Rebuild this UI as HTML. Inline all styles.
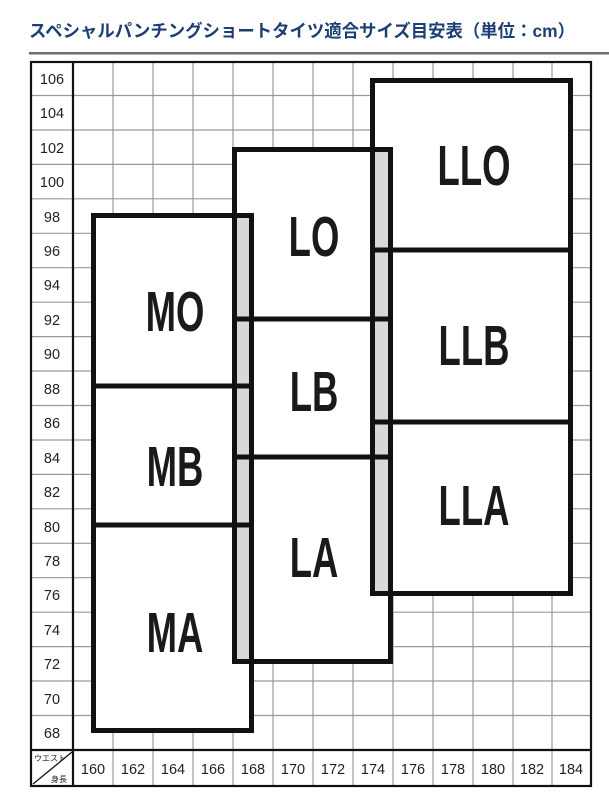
<!DOCTYPE html>
<html><head><meta charset="utf-8"><style>
html,body{margin:0;padding:0;background:#fff;}
svg{display:block;}
</style></head><body>
<svg width="609" height="810" viewBox="0 0 609 810" xmlns="http://www.w3.org/2000/svg">
<text x="29" y="37" font-family="Liberation Sans, Noto Sans CJK JP, sans-serif" font-size="17.5" font-weight="bold" fill="#1d3f73" textLength="546" lengthAdjust="spacingAndGlyphs">スペシャルパンチングショートタイツ適合サイズ目安表（単位：cm）</text>
<rect x="29" y="52" width="580" height="2.5" fill="#6e6e6e"/>
<g stroke="#9a9a9a" stroke-width="1.2">
<line x1="113" y1="61" x2="113" y2="786"/><line x1="153" y1="61" x2="153" y2="786"/><line x1="193" y1="61" x2="193" y2="786"/><line x1="233" y1="61" x2="233" y2="786"/><line x1="273" y1="61" x2="273" y2="786"/><line x1="313" y1="61" x2="313" y2="786"/><line x1="353" y1="61" x2="353" y2="786"/><line x1="393" y1="61" x2="393" y2="786"/><line x1="433" y1="61" x2="433" y2="786"/><line x1="473" y1="61" x2="473" y2="786"/><line x1="513" y1="61" x2="513" y2="786"/><line x1="552" y1="61" x2="552" y2="786"/>
<line x1="31" y1="95.5" x2="591" y2="95.5"/><line x1="31" y1="130" x2="591" y2="130"/><line x1="31" y1="164.4" x2="591" y2="164.4"/><line x1="31" y1="198.8" x2="591" y2="198.8"/><line x1="31" y1="233.3" x2="591" y2="233.3"/><line x1="31" y1="267.7" x2="591" y2="267.7"/><line x1="31" y1="302.2" x2="591" y2="302.2"/><line x1="31" y1="336.6" x2="591" y2="336.6"/><line x1="31" y1="371" x2="591" y2="371"/><line x1="31" y1="405.5" x2="591" y2="405.5"/><line x1="31" y1="440" x2="591" y2="440"/><line x1="31" y1="474.4" x2="591" y2="474.4"/><line x1="31" y1="508.8" x2="591" y2="508.8"/><line x1="31" y1="543.3" x2="591" y2="543.3"/><line x1="31" y1="577.7" x2="591" y2="577.7"/><line x1="31" y1="612.2" x2="591" y2="612.2"/><line x1="31" y1="646.6" x2="591" y2="646.6"/><line x1="31" y1="681" x2="591" y2="681"/><line x1="31" y1="715.5" x2="591" y2="715.5"/>
</g>
<g stroke="#111" stroke-width="2.2" fill="none">
<rect x="31" y="62" width="560" height="724"/>
<line x1="73" y1="62" x2="73" y2="786"/>
<line x1="31" y1="750" x2="591" y2="750"/>
<line x1="33" y1="784" x2="72" y2="752" stroke-width="1.3"/>
</g>
<g font-family="Liberation Sans, sans-serif" font-size="14.5" fill="#222" text-anchor="middle">
<text x="52" y="84">106</text><text x="52" y="118">104</text><text x="52" y="153">102</text><text x="52" y="187">100</text><text x="52" y="222">98</text><text x="52" y="256">96</text><text x="52" y="290">94</text><text x="52" y="325">92</text><text x="52" y="359">90</text><text x="52" y="394">88</text><text x="52" y="428">86</text><text x="52" y="463">84</text><text x="52" y="497">82</text><text x="52" y="532">80</text><text x="52" y="566">78</text><text x="52" y="600">76</text><text x="52" y="635">74</text><text x="52" y="669">72</text><text x="52" y="704">70</text><text x="52" y="738">68</text>
<text x="93" y="774">160</text><text x="133" y="774">162</text><text x="173" y="774">164</text><text x="213" y="774">166</text><text x="253" y="774">168</text><text x="293" y="774">170</text><text x="333" y="774">172</text><text x="373" y="774">174</text><text x="413" y="774">176</text><text x="453" y="774">178</text><text x="493" y="774">180</text><text x="532" y="774">182</text><text x="571" y="774">184</text>
</g>
<text x="34" y="761" font-family="Liberation Sans, Noto Sans CJK JP, sans-serif" font-size="8" fill="#222">ウエスト</text>
<text x="51" y="782" font-family="Liberation Sans, Noto Sans CJK JP, sans-serif" font-size="8" fill="#222">身長</text>
<g fill="#fff" stroke="none">
<rect x="93.5" y="215.5" width="158" height="515"/>
<rect x="234.5" y="149.5" width="156" height="512"/>
<rect x="372.5" y="80.5" width="198" height="513"/>
</g>
<g fill="#d8d8d8"><rect x="234.5" y="215.5" width="17" height="446"/><rect x="372.5" y="149.5" width="18" height="444"/></g>
<g stroke="#111" stroke-width="5" fill="none">
<rect x="93.5" y="215.5" width="158" height="515"/>
<rect x="234.5" y="149.5" width="156" height="512"/>
<rect x="372.5" y="80.5" width="198" height="513"/>
<line x1="93" y1="386" x2="252" y2="386"/><line x1="93" y1="525" x2="252" y2="525"/>
<line x1="234" y1="319" x2="391" y2="319"/><line x1="234" y1="457" x2="391" y2="457"/>
<line x1="372" y1="250" x2="571" y2="250"/><line x1="372" y1="422" x2="571" y2="422"/>
</g>
<g font-family="Liberation Sans, sans-serif" font-weight="bold" font-size="57" fill="#1a1a1a" text-anchor="middle">
<text transform="translate(175,331) scale(0.64,1)">MO</text>
<text transform="translate(175,486) scale(0.64,1)">MB</text>
<text transform="translate(175,652) scale(0.64,1)">MA</text>
<text transform="translate(314,256) scale(0.64,1)">LO</text>
<text transform="translate(314,411) scale(0.64,1)">LB</text>
<text transform="translate(314,577) scale(0.64,1)">LA</text>
<text transform="translate(474,185) scale(0.64,1)">LLO</text>
<text transform="translate(474,365) scale(0.64,1)">LLB</text>
<text transform="translate(474,525) scale(0.64,1)">LLA</text>
</g>
</svg>
</body></html>
